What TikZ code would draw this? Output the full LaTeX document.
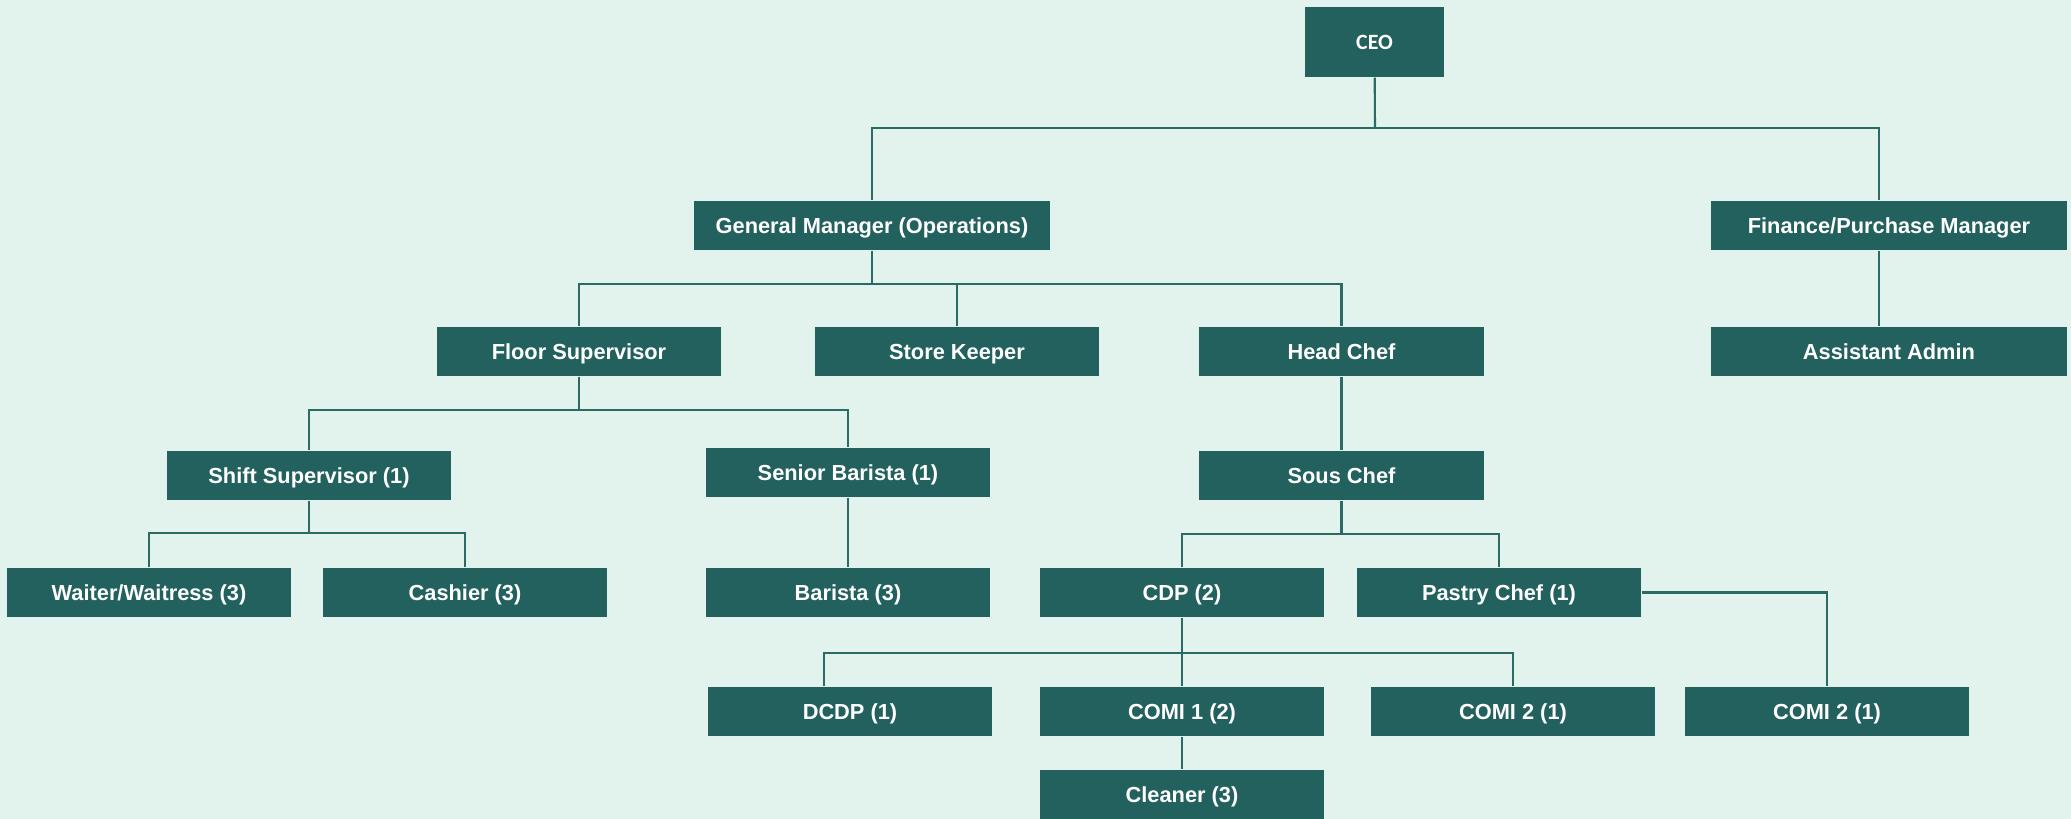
\documentclass[tikz,border=0pt]{standalone}
\usepackage{fontspec}
\setmainfont{Liberation Sans}
\newfontfamily\ceofont{Carlito}
\definecolor{bgmint}{HTML}{E2F3EE}
\definecolor{teal}{HTML}{22615D}
\definecolor{wire}{HTML}{2B6A65}
\tikzset{
  role/.style={fill=teal, text=white, font=\fontsize{6.2}{7}\selectfont\bfseries,
    minimum width=2.84cm, minimum height=0.49cm, inner sep=0pt,
    text height=4.45pt, text depth=0pt},
  wide/.style={role, minimum width=3.56cm},
  link/.style={draw=wire, line width=0.6pt},
}
\begin{document}
\begin{tikzpicture}[x=0.01cm, y=-0.01cm]
% background, one unit = one pixel
\fill[bgmint] (0,0) rectangle (2071,819);
\useasboundingbox (0,0) rectangle (2071,819);

% top
\node[role, minimum width=1.39cm, minimum height=0.70cm, text height=4pt,
      font=\ceofont\fontsize{6.2}{7}\selectfont\bfseries] (ceo) at (1374.5,42) {CEO};
\node[wide] (gm) at (872,225.5) {General Manager (Operations)};
\node[wide] (fin) at (1889,225.5) {Finance/Purchase Manager};

% second row
\node[role] (floor) at (579,351.5) {Floor Supervisor};
\node[role] (store) at (957,351.5) {Store Keeper};
\node[role] (head) at (1341.5,351.5) {Head Chef};
\node[wide] (admin) at (1889,351.5) {Assistant Admin};

% third row
\node[role] (shift) at (309,475.5) {Shift Supervisor (1)};
\node[role] (senior) at (848,472.5) {Senior Barista (1)};
\node[role] (sous) at (1341.5,475.5) {Sous Chef};

% fourth row
\node[role] (waiter) at (149,592.5) {Waiter/Waitress (3)};
\node[role] (cashier) at (465,592.5) {Cashier (3)};
\node[role] (barista) at (848,592.5) {Barista (3)};
\node[role] (cdp) at (1182,592.5) {CDP (2)};
\node[role] (pastry) at (1499,592.5) {Pastry Chef (1)};

% kitchen crew
\node[role] (dcdp) at (850,711.5) {DCDP (1)};
\node[role] (comiA) at (1182,711.5) {COMI 1 (2)};
\node[role] (comiB) at (1513,711.5) {COMI 2 (1)};
\node[role] (comiC) at (1827,711.5) {COMI 2 (1)};
\node[role] (cleaner) at (1182,794.5) {Cleaner (3)};

% buses
\coordinate (ceobus) at (1375,128);
\coordinate (gmbus) at (872,284);
\coordinate (floorbus) at (579,410);
\coordinate (shiftbus) at (309,533);
\coordinate (sousbus) at (1341.5,534);
\coordinate (cdpbus) at (1182,653);

\draw[link] (ceo) -- (ceobus);
\draw[link] (gm) |- (ceobus) -| ([xshift=-0.1cm]fin.north);
\draw[link] ([xshift=-0.1cm]fin.south) -- ([xshift=-0.1cm]admin.north);

\draw[link] (gm) -- (gmbus);
\draw[link] (floor) |- (gmbus) -| (head);
\draw[link] (store) -- (store |- gmbus);

\draw[link] (floor) -- (floorbus);
\draw[link] (shift) |- (floorbus) -| (senior);
\draw[link] (shift) -- (shiftbus);
\draw[link] (waiter) |- (shiftbus) -| (cashier);
\draw[link] (senior) -- (barista);

\draw[link] (head) -- (sous);
\draw[link] (sous) -- (sousbus);
\draw[link] (cdp) |- (sousbus) -| (pastry);
\draw[link] (cdp) -- (comiA);
\draw[link] ([xshift=-0.26cm]dcdp.north) |- (cdpbus) -| (comiB);
\draw[link] (comiA) -- (cleaner);
\draw[link] (pastry.east) -| (comiC);
\end{tikzpicture}
\end{document}
